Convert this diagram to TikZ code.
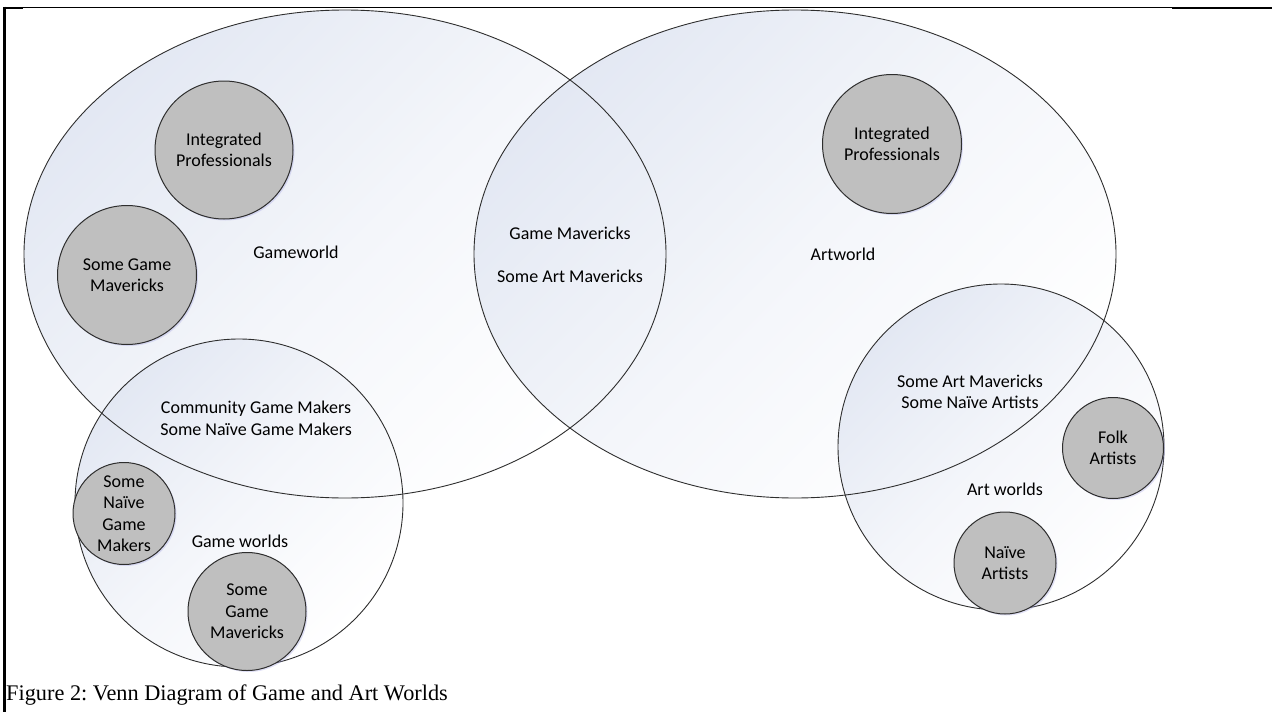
\documentclass[tikz,border=0pt]{standalone}
\usepackage{fontspec}
\setmainfont{Carlito}
\newfontfamily\capfont{Liberation Serif}
\usetikzlibrary{shadows}
\definecolor{tint}{HTML}{E3E8F3}
\definecolor{discgray}{HTML}{BFBFBF}
\definecolor{edge}{HTML}{2E2E2E}
\frenchspacing
\begin{document}
\begin{tikzpicture}[x=1pt,y=-1pt,
  region/.style={top color=tint, bottom color=white, middle color=white!60!tint, shading angle=45},
  outline/.style={draw=edge, line width=0.9pt},
  lbl/.style={font=\fontsize{18}{21.5}\selectfont, align=center, inner sep=0pt, text=black},
  disc/.style={circle, draw=edge, line width=1pt, fill=discgray, minimum size=#1, inner sep=0pt,
    align=center, font=\fontsize{18}{21.5}\selectfont,
    drop shadow={shadow xshift=1.5pt, shadow yshift=-1.5pt, fill=black!30!blue!40, opacity=0.3}},
  frame/.style={draw=black},
]
\useasboundingbox (0,0) rectangle (1272,712);
% frame
\draw[frame, line width=1pt] (4,7.2) -- (1172,7.2);
\draw[frame, line width=2pt] (3.5,7.7) -- (23,7.7);
\draw[frame, line width=2pt] (1172,7.7) -- (1272,7.7);
\draw[frame, line width=2.2pt] (4.5,6.7) -- (4.5,712);
% region fills
\shade[region] (345,254) ellipse [x radius=321pt, y radius=244pt];
\shade[region] (795,254) ellipse [x radius=321pt, y radius=244pt];
\shade[region] (239,503) circle [radius=164pt];
\shade[region] (1001,447) circle [radius=163pt];
% region outlines
\draw[outline] (345,254) ellipse [x radius=321pt, y radius=244pt];
\draw[outline] (795,254) ellipse [x radius=321pt, y radius=244pt];
\draw[outline] (239,503) circle [radius=164pt];
\draw[outline] (1001,447) circle [radius=163pt];
% region labels
\node[lbl] (gw) at (296,252) {Gameworld};
\node[lbl] (aw) at (843,254) {Artworld};
\node[lbl] (gm) at (570,233) {Game Mavericks};
\node[lbl] (sam) at (570,276) {Some Art Mavericks};
\node[lbl] (cgm) at (256,418.5) {Community Game Makers\\Some Naïve Game Makers};
\node[lbl] (gws) at (240,541) {Game worlds};
\node[lbl] (sams) at (970,392) {Some Art Mavericks\\Some Naïve Artists};
\node[lbl] (aws) at (1005,489) {Art worlds};
% discs
\node[disc=138pt] (ipl) at (224,150) {Integrated\\Professionals};
\node[disc=139pt] (sgm) at (127,275) {Some Game\\Mavericks};
\node[disc=139pt] (ipr) at (892,144) {Integrated\\Professionals};
\node[disc=102pt] (sngm) at (124,513.5) {Some\\Naïve\\Game\\Makers};
\node[disc=118pt] (sgm2) at (247,611.5) {Some\\Game\\Mavericks};
\node[disc=101pt] (folk) at (1113,448) {Folk\\Artists};
\node[disc=102pt] (naive) at (1005,563) {Naïve\\Artists};
% caption
\node[anchor=base west, inner sep=0pt, font=\capfont\fontsize{22.3}{26}\selectfont] (cap) at (6,700) {Figure 2: Venn Diagram of Game and Art Worlds};
\end{tikzpicture}
\end{document}
